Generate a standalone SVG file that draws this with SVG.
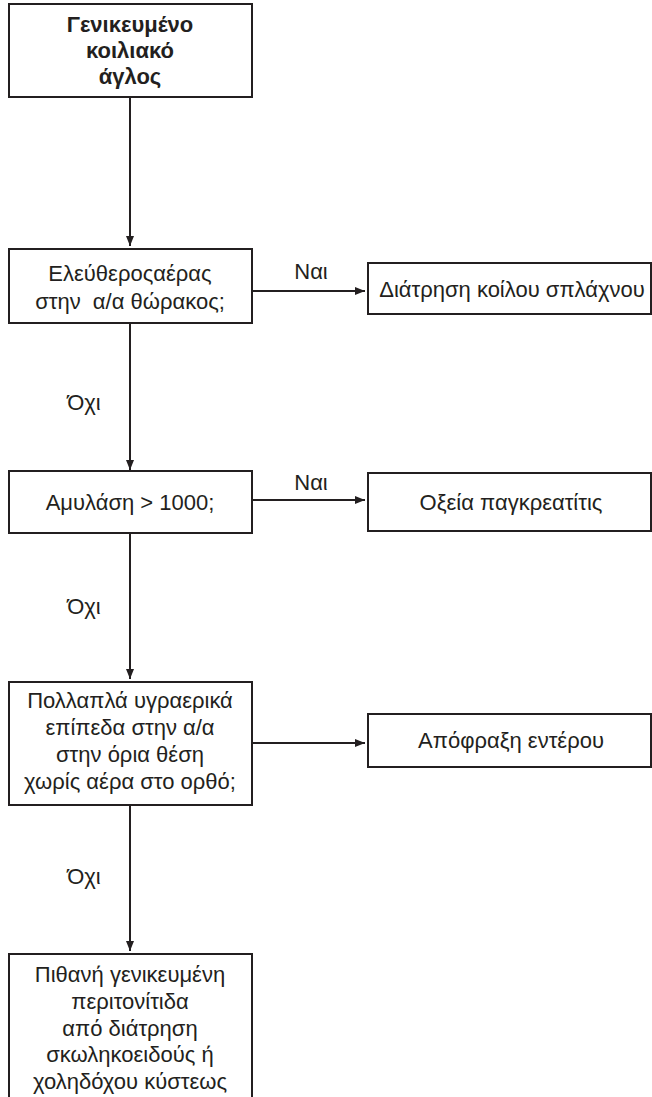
<svg xmlns="http://www.w3.org/2000/svg" width="652" height="1097" viewBox="0 0 652 1097">
<style>
.box{fill:#ffffff;stroke:#231f20;stroke-width:2}
.ln{fill:none;stroke:#231f20;stroke-width:2}
.t{font-family:"Liberation Sans",Arial,sans-serif;font-size:22px;fill:#231f20;text-anchor:middle}
.b{font-weight:bold;font-size:22px}
</style>
<defs>
<marker id="ah" markerUnits="userSpaceOnUse" markerWidth="10" markerHeight="10" viewBox="0 0 10 10" refX="10" refY="5" orient="auto">
<path d="M0,1 L10,5 L0,9 Z" fill="#231f20"/>
</marker>
</defs>
<rect width="652" height="1097" fill="#ffffff"/>
<g id="connectors">
<path class="ln" d="M130,97 V246" marker-end="url(#ah)"/>
<path class="ln" d="M252,291 H365" marker-end="url(#ah)"/>
<text class="t" x="311" y="279">Ναι</text>
<path class="ln" d="M130,323 V470" marker-end="url(#ah)"/>
<text class="t" x="84" y="410">Όχι</text>
<path class="ln" d="M252,500 H365" marker-end="url(#ah)"/>
<text class="t" x="311" y="490">Ναι</text>
<path class="ln" d="M130,533 V679" marker-end="url(#ah)"/>
<text class="t" x="84" y="614">Όχι</text>
<path class="ln" d="M252,743 H365" marker-end="url(#ah)"/>
<path class="ln" d="M130,805 V951" marker-end="url(#ah)"/>
<text class="t" x="84" y="884">Όχι</text>
</g>
<g id="n1">
<rect class="box" x="9" y="4" width="243" height="93"/>
<text class="t b" x="130" y="32">Γενικευμένο</text>
<text class="t b" x="130" y="58">κοιλιακό</text>
<text class="t b" x="130" y="84">άγλος</text>
</g>
<g id="n2">
<rect class="box" x="9" y="249" width="243" height="74"/>
<text class="t" x="130" y="281">Ελεύθεροςαέρας</text>
<text class="t" x="130" y="309" xml:space="preserve">στην  α/α θώρακος;</text>
</g>
<g id="n3">
<rect class="box" x="368" y="263" width="283" height="51"/>
<text class="t" x="512" y="297">Διάτρηση κοίλου σπλάχνου</text>
</g>
<g id="n4">
<rect class="box" x="9" y="471" width="243" height="62"/>
<text class="t" x="130" y="510">Αμυλάση &gt; 1000;</text>
</g>
<g id="n5">
<rect class="box" x="368" y="473" width="283" height="58"/>
<text class="t" x="511" y="510">Οξεία παγκρεατίτις</text>
</g>
<g id="n6">
<rect class="box" x="9" y="682" width="243" height="123"/>
<text class="t" x="130" y="708">Πολλαπλά υγραερικά</text>
<text class="t" x="130" y="735">επίπεδα στην α/α</text>
<text class="t" x="130" y="762">στην όρια θέση</text>
<text class="t" x="130" y="789">χωρίς αέρα στο ορθό;</text>
</g>
<g id="n7">
<rect class="box" x="368" y="714" width="283" height="53"/>
<text class="t" x="511" y="748">Απόφραξη εντέρου</text>
</g>
<g id="n8">
<path class="ln" d="M9,1097 V954 H252 V1097"/>
<text class="t" x="130" y="982">Πιθανή γενικευμένη</text>
<text class="t" x="130" y="1009">περιτονίτιδα</text>
<text class="t" x="130" y="1036">από διάτρηση</text>
<text class="t" x="130" y="1062">σκωληκοειδούς ή</text>
<text class="t" x="130" y="1089">χοληδόχου κύστεως</text>
</g>
</svg>
